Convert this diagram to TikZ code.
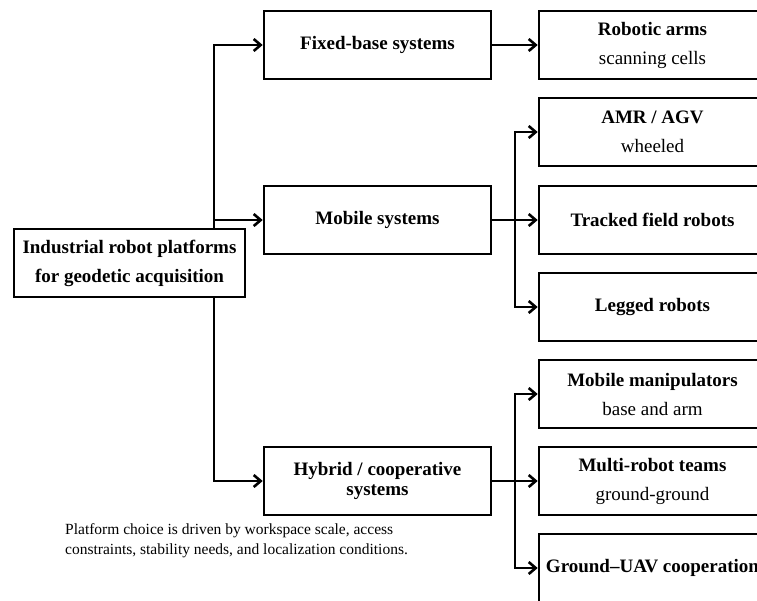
\documentclass[tikz,border=0pt]{standalone}
\usepackage{fontspec}
\setmainfont{Liberation Serif}
\usetikzlibrary{arrows.meta}
\begin{document}
\begin{tikzpicture}[x=1pt,y=-1pt,
  box/.style={draw, line width=2.6pt, fill=white, minimum width=227pt, minimum height=68pt,
    inner sep=2pt, align=center, font=\fontsize{19}{29}\selectfont},
  tightbox/.style={box, font=\fontsize{19}{20}\selectfont},
  conn/.style={line width=2.6pt, -{Straight Barb[length=7pt,width=12pt]}},
  plain/.style={line width=2.6pt},
  caption/.style={anchor=base west, inner sep=0pt, align=left, font=\fontsize{15.5}{20}\selectfont}]
\useasboundingbox (0,0) rectangle (757,600);
\clip (0,0) rectangle (757,600);

% left and middle column
\node[box, minimum width=231pt] (root) at (129.5,263) {\textbf{Industrial robot platforms}\\\textbf{for geodetic acquisition}};
\node[box] (fixed) at (377.5,45) {\textbf{Fixed-base systems}};
\node[box] (mobile) at (377.5,220) {\textbf{Mobile systems}};
\node[tightbox] (hybrid) at (377.5,481) {\textbf{Hybrid / cooperative}\\\textbf{systems}};

% right column
\node[box] (arms) at (652.5,45) {\textbf{Robotic arms}\\scanning cells};
\node[box] (amr) at (652.5,132) {\textbf{AMR / AGV}\\wheeled};
\node[box] (tracked) at (652.5,220) {\textbf{Tracked field robots}};
\node[box] (legged) at (652.5,307) {\textbf{Legged robots}};
\node[box] (manip) at (652.5,394) {\textbf{Mobile manipulators}\\base and arm};
\node[box] (teams) at (652.5,481) {\textbf{Multi-robot teams}\\ground-ground};
\node[box] (uav) at (652.5,568) {\textbf{Ground–UAV cooperation}};

% caption
\node[caption] (cap) at (65,554) {Platform choice is driven by workspace scale, access\\constraints, stability needs, and localization conditions.};

% trunk from root
\coordinate (tr) at (214,263);
\draw[conn] (root.north -| tr) |- (fixed.west);
\draw[conn] (root.north -| tr) |- (mobile.west);
\draw[conn] (root.south -| tr) |- (hybrid.west);

% fixed branch
\draw[conn] (fixed.east) -- (arms.west);

% mobile branch
\coordinate (mj) at (515,220);
\draw[plain] (mobile.east) -- (mj);
\draw[conn] (mj) |- (amr.west);
\draw[conn] (mj) -- (tracked.west);
\draw[conn] (mj) |- (legged.west);

% hybrid branch
\coordinate (hj) at (515,481);
\draw[plain] (hybrid.east) -- (hj);
\draw[conn] (hj) |- (manip.west);
\draw[conn] (hj) -- (teams.west);
\draw[conn] (hj) |- (uav.west);
\end{tikzpicture}
\end{document}
